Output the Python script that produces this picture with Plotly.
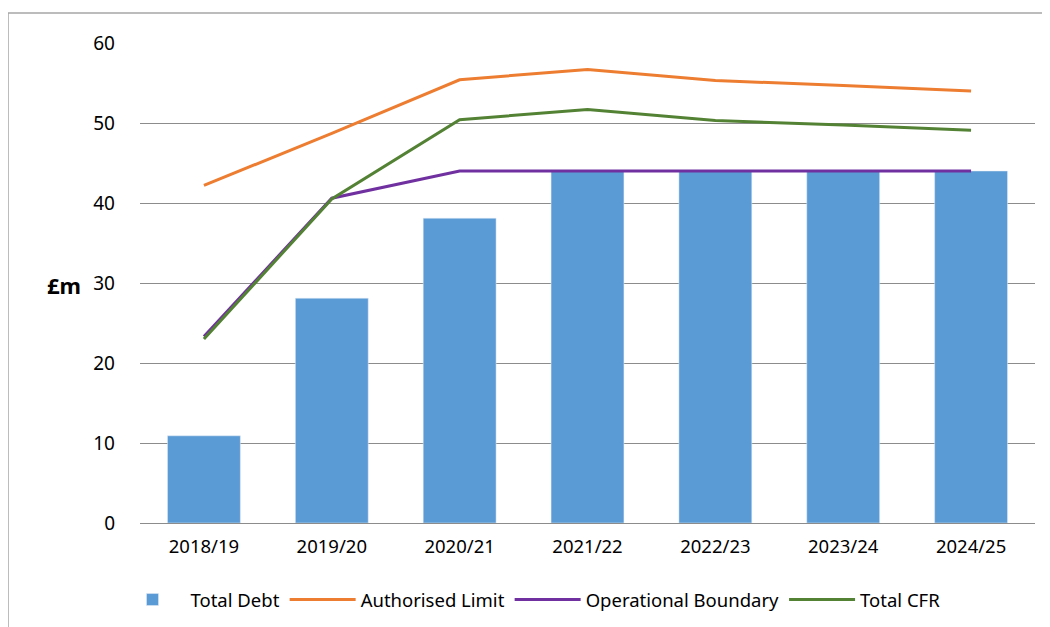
import plotly.graph_objects as go

years = ["2018/19", "2019/20", "2020/21", "2021/22", "2022/23", "2023/24", "2024/25"]
total_debt = [10.9, 28.1, 38.1, 44.0, 44.0, 44.0, 44.0]
authorised_limit = [42.2, 48.7, 55.4, 56.7, 55.3, 54.7, 54.0]
operational_boundary = [23.3, 40.6, 44.0, 44.0, 44.0, 44.0, 44.0]
total_cfr = [23.0, 40.5, 50.4, 51.7, 50.3, 49.75, 49.1]

font = "Noto Sans, Open Sans, sans-serif"

# page body has an 8px offset; compensate so plot area is at x 140-1035, y 43-523 on screen
L, T = 132, 35
PW, PH = 895, 480
W, H = 1050, 627
R = W - L - PW
B = H - T - PH

fig = go.Figure()
fig.add_bar(x=years, y=total_debt, name="Total Debt", marker_color="#5B9BD5", width=0.57)
fig.add_scatter(x=years, y=authorised_limit, name="Authorised Limit", mode="lines",
                line=dict(color="#ED7D31", width=3))
fig.add_scatter(x=years, y=operational_boundary, name="Operational Boundary", mode="lines",
                line=dict(color="#7030A0", width=3))
fig.add_scatter(x=years, y=total_cfr, name="Total CFR", mode="lines",
                line=dict(color="#548235", width=3))

def px_x(x):
    return (x - 8 - L) / PW

def px_y(y):
    return (T + PH - (y - 8)) / PH

fig.update_layout(
    width=W, height=H,
    margin=dict(l=L, r=R, t=T, b=B),
    paper_bgcolor="white", plot_bgcolor="white",
    font=dict(family=font, size=19, color="#000000"),
    showlegend=True,
    legend=dict(orientation="h", x=px_x(530), xanchor="center", y=px_y(600), yanchor="middle",
                font=dict(size=18.5), traceorder="normal", itemwidth=66),
    xaxis=dict(range=[-0.5, 6.5], showgrid=False, showline=False, ticks="",
               tickfont=dict(size=18.5), ticklabelstandoff=10),
    yaxis=dict(range=[0, 60], dtick=10, showgrid=True, gridcolor="#8C8C8C", gridwidth=1,
               zeroline=True, zerolinecolor="#8C8C8C", zerolinewidth=1,
               showline=False, ticks="", tickfont=dict(size=19), ticklabelstandoff=24),
    annotations=[dict(text="<b>£m</b>", xref="paper", yref="paper",
                      x=px_x(64), y=px_y(285), showarrow=False,
                      xanchor="center", yanchor="middle", font=dict(size=22))],
    shapes=[
        dict(type="line", xref="paper", yref="paper",
             x0=px_x(8), x1=px_x(1060), y0=px_y(13), y1=px_y(13),
             line=dict(color="#A6A6A6", width=1.5)),
        dict(type="line", xref="paper", yref="paper",
             x0=px_x(8), x1=px_x(8), y0=px_y(13), y1=px_y(640),
             line=dict(color="#A6A6A6", width=1.5)),
    ],
)

fig.write_html("out.html")
